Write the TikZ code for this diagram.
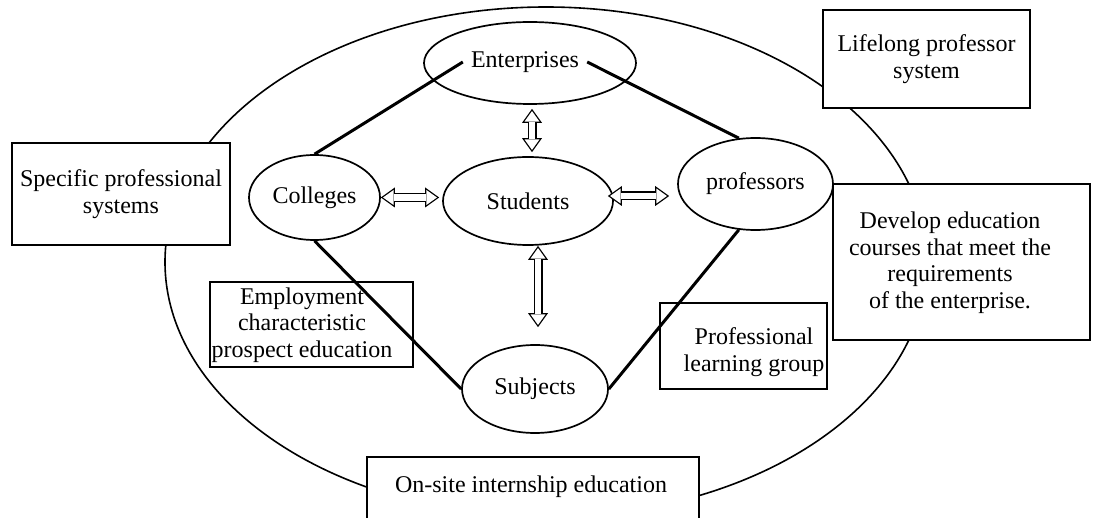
\documentclass[tikz,border=0pt]{standalone}
\usepackage{fontspec}
\setmainfont{Liberation Serif}
\usetikzlibrary{shapes.geometric,arrows.meta}
% hollow two-way arrow: black outline pass, then white inner pass
\newcommand{\twowayarrow}[2]{%
  \draw[hollowout] (#1) -- (#2);
  \draw[hollowin] (#1) -- (#2);}
\begin{document}
\begin{tikzpicture}[x=1pt,y=-1pt,
  txt/.style={font=\fontsize{24}{26.5}\selectfont, align=center, inner sep=0pt},
  oval/.style={ellipse, draw, line width=1.7pt, inner sep=0pt,
               font=\fontsize{24}{26.5}\selectfont},
  panel/.style={draw, line width=2pt, fill=white, inner sep=0pt},
  link/.style={line width=3pt},
  hollowout/.style={line width=9pt,
    {Triangle[length=14pt,width=20pt,line width=0pt]}-{Triangle[length=14pt,width=20pt,line width=0pt]}},
  hollowin/.style={white, line width=6.4pt, shorten <=2.24pt, shorten >=2.24pt,
    {Triangle[length=10.46pt,width=14.94pt,line width=0pt]}-{Triangle[length=10.46pt,width=14.94pt,line width=0pt]}}
]
\useasboundingbox (0,0) rectangle (1093,518);

% outer frame ellipse
\draw[line width=1.6pt] (546,262) ellipse [x radius=381pt, y radius=255pt];

% surrounding boxes
\node[panel, txt, minimum width=218pt, minimum height=102pt] (spec) at (121,194)
  {Specific professional\\systems};
\node[panel, txt, minimum width=207pt, minimum height=98pt] (life) at (926.5,59)
  {Lifelong professor\\system};
\node[panel, minimum width=257pt, minimum height=156pt] (dev) at (961.5,262) {};
\node[txt] (devt) at (950,262.5)
  {Develop education\\courses that meet the\\requirements\\of the enterprise.};
\node[panel, minimum width=203pt, minimum height=85pt] (emp) at (311.5,324.5) {};
\node[txt] (empt) at (302,325)
  {Employment\\characteristic\\prospect education};
\node[panel, minimum width=167pt, minimum height=86pt] (plg) at (743.5,346) {};
\node[txt] (plgt) at (754,352) {Professional\\learning group};
\node[panel, minimum width=332pt, minimum height=72pt] (onsite) at (533,493) {};
\node[txt] (onsitet) at (531,487) {On-site internship education};

% actors
\node[oval, minimum width=212pt, minimum height=82pt] (ent) at (530,63) {};
\node[txt, inner xsep=8pt] (entt) at (525,62) {Enterprises};
\node[oval, minimum width=131pt, minimum height=85pt] (coll) at (314.5,197.5) {Colleges};
\node[oval, minimum width=170pt, minimum height=88pt] (stud) at (528,201) {Students};
\node[oval, minimum width=155pt, minimum height=92pt] (prof) at (755.5,184) {professors};
\node[oval, minimum width=146pt, minimum height=88pt] (subj) at (535,389) {Subjects};

% relations
\draw[link] (coll.north) -- (entt.west);
\draw[link] (entt.east) -- (prof.110);
\draw[link] (coll.south) -- (subj.west);
\draw[link] (prof.250) -- (subj.east);

% two-way arrows, tip to tip
\path ([xshift=2pt,yshift=-4pt]ent.south) coordinate (es1);
\path ([xshift=4pt,yshift=4pt]stud.north) coordinate (es2);
\twowayarrow{es1}{es2}
\path (stud.west |- coll.east) coordinate (cs);
\path ([xshift=-3pt]cs) coordinate (cs2);
\twowayarrow{coll.east}{cs2}
\path ([xshift=-6pt,yshift=5pt]stud.east) coordinate (sp1);
\path (prof.west |- sp1) coordinate (sp);
\path ([xshift=-8pt]sp) coordinate (sp2);
\twowayarrow{sp1}{sp2}
\path ([xshift=10pt]stud.south) coordinate (ss1);
\path (ss1 |- subj.north) coordinate (ss);
\path ([yshift=17pt]ss) coordinate (ss2);
\twowayarrow{ss1}{ss2}
\end{tikzpicture}
\end{document}
